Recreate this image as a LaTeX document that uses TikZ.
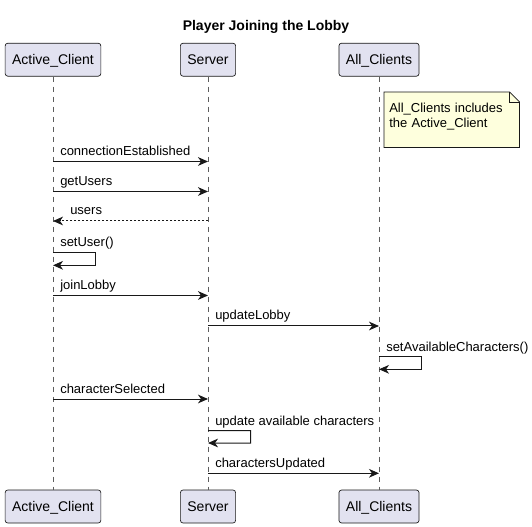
\documentclass[tikz,border=0pt]{standalone}
\usepackage{fontspec}
\setmainfont{Liberation Sans}
\usetikzlibrary{arrows.meta,calc,backgrounds}
\definecolor{boxfill}{HTML}{E2E2F0}
\definecolor{notefill}{HTML}{FEFFDD}
\definecolor{ink}{HTML}{181818}

\begin{document}
\begin{tikzpicture}[x=0.75pt, y=-0.75pt,
    actor/.style = {draw=ink, fill=boxfill, rounded corners=2pt, line width=0.5pt, minimum height=24.75pt, inner xsep=5.25pt, text height=7.5pt, text depth=0pt, font=\fontsize{10.5}{12}\selectfont},
    life/.style = {draw=ink!70, line width=0.5pt, dash pattern=on 3.75pt off 3.75pt},
    msg/.style = {draw=ink, line width=0.75pt, -{Stealth[length=7.5pt,width=6.5pt,inset=2.25pt]}},
    reply/.style = {msg, dash pattern=on 1.5pt off 1.5pt},
    lbl/.style = {anchor=base west, inner sep=0pt, font=\fontsize{9.75}{11.25}\selectfont},
    note/.style = {anchor=north west, minimum height=41.25pt, text width=93.75pt, text depth=17.5pt, inner xsep=3.75pt, align=left, font=\fontsize{9.75}{11.25}\selectfont},
    notebox/.style = {draw=ink, fill=notefill, line width=0.5pt}]

    \useasboundingbox (0,0) rectangle (532,527);

    \node[anchor=base, font=\bfseries\fontsize{10.5}{12}\selectfont] (t) at (266,30.5) {Player Joining the Lobby};

    \node[actor] (ac) at (53,59.7) {Active\_Client};
    \node[actor] (sv) at (208,59.7) {Server};
    \node[actor] (al) at (379,59.7) {All\_Clients};

    \node[actor] (ac2) at (53,506.5) {Active\_Client};
    \node[actor] (sv2) at (208,506.5) {Server};
    \node[actor] (al2) at (379,506.5) {All\_Clients};

    \draw[life] (ac) -- (ac2);
    \draw[life] (sv) -- (sv2);
    \draw[life] (al) -- (al2);

    \node[note] (n) at (384,92) {All\_Clients includes\\the Active\_Client};
    \begin{scope}[on background layer]
        \draw[notebox] (n.north west) -- ($(n.north east)+(-10,0)$) -- ($(n.north east)+(0,10)$) -- (n.south east) -- (n.south west) -- cycle;
        \draw[notebox, fill=none] ($(n.north east)+(-10,0)$) |- ($(n.north east)+(0,10)$);
    \end{scope}

    \draw[msg] (ac |- 0,161.5) -- (sv |- 0,161.5);
    \node[lbl] (m1) at (60,155.5) {connectionEstablished};

    \draw[msg] (ac |- 0,191.5) -- (sv |- 0,191.5);
    \node[lbl] (m2) at (60,185.5) {getUsers};

    \draw[reply] (sv |- 0,221) -- (ac |- 0,221);
    \node[lbl] (m3) at (70,215) {users};

    \draw[msg] (ac |- 0,252.7) -- ++(42.7,0) -- ++(0,12.6) -- (ac |- 0,265.3);
    \node[lbl] (m4) at (60,247) {setUser()};

    \draw[msg] (ac |- 0,295.5) -- (sv |- 0,295.5);
    \node[lbl] (m5) at (60,289.5) {joinLobby};

    \draw[msg] (sv |- 0,326) -- (al |- 0,326);
    \node[lbl] (m6) at (215,320) {updateLobby};

    \draw[msg] (al |- 0,356.7) -- ++(42.7,0) -- ++(0,12.6) -- (al |- 0,369.3);
    \node[lbl] (m7) at (386,351) {setAvailableCharacters()};

    \draw[msg] (ac |- 0,399) -- (sv |- 0,399);
    \node[lbl] (m8) at (60,393) {characterSelected};

    \draw[msg] (sv |- 0,430.7) -- ++(42.7,0) -- ++(0,12.3) -- (sv |- 0,443);
    \node[lbl] (m9) at (215,425) {update available characters};

    \draw[msg] (sv |- 0,473.3) -- (al |- 0,473.3);
    \node[lbl] (m10) at (215,467.3) {charactersUpdated};

\end{tikzpicture}
\end{document}
